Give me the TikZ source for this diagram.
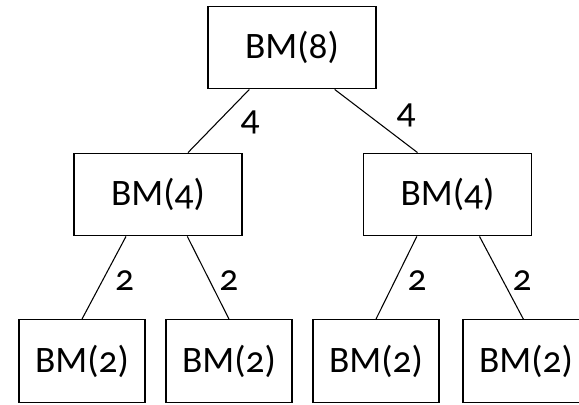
\documentclass[tikz,border=0pt]{standalone}
\usepackage{fontspec}
\setmainfont{Carlito}[Numbers=OldStyle]
\usepackage{tikz}
\usetikzlibrary{positioning}

\tikzset{
  bmbox/.style={draw, line width=0.9pt, minimum width=126pt, minimum height=62pt, font=\fontsize{28}{30}\selectfont},
  leafbox/.style={bmbox, minimum width=94.5pt},
  split/.style={line width=0.8pt},
  size/.style={font=\fontsize{28}{30}\selectfont, inner sep=0pt}
}

\begin{document}
\begin{tikzpicture}[x=0.75pt, y=-0.75pt]
        \useasboundingbox (0,0) rectangle (579,404);

        % Top level
        \node[bmbox] (bm8) at (292,47.5) {BM(8)};

        % Second level
        \node[bmbox] (bm4a) at (158,194.5) {BM(4)};
        \node[bmbox] (bm4b) at (447.5,194.5) {BM(4)};

        % Leaves
        \node[leafbox] (bm2a) at (82,361) {BM(2)};
        \node[leafbox] (bm2b) at (229,361) {BM(2)};
        \node[leafbox] (bm2c) at (376,361) {BM(2)};
        \node[leafbox] (bm2d) at (526,361) {BM(2)};

        % Splits of BM(8)
        \draw[split] ([xshift=-32pt]bm8.south) -- ([xshift=22.5pt]bm4a.north)
            node[midway, right=16pt, yshift=-1pt, size] {4};
        \draw[split] ([xshift=32pt]bm8.south) -- ([xshift=-22.5pt]bm4b.north)
            node[midway, right=15pt, yshift=4pt, size] {4};

        % Splits of BM(4)
        \draw[split] ([xshift=-24pt]bm4a.south) -- (bm2a.north)
            node[midway, right=8pt, yshift=-2pt, size] {2};
        \draw[split] ([xshift=22pt]bm4a.south) -- (bm2b.north)
            node[midway, right=8pt, yshift=-2pt, size] {2};
        \draw[split] ([xshift=-23pt]bm4b.south) -- (bm2c.north)
            node[midway, right=8pt, yshift=-2pt, size] {2};
        \draw[split] ([xshift=24pt]bm4b.south) -- ([xshift=-2pt]bm2d.north)
            node[midway, right=8pt, yshift=-2pt, size] {2};
\end{tikzpicture}
\end{document}
